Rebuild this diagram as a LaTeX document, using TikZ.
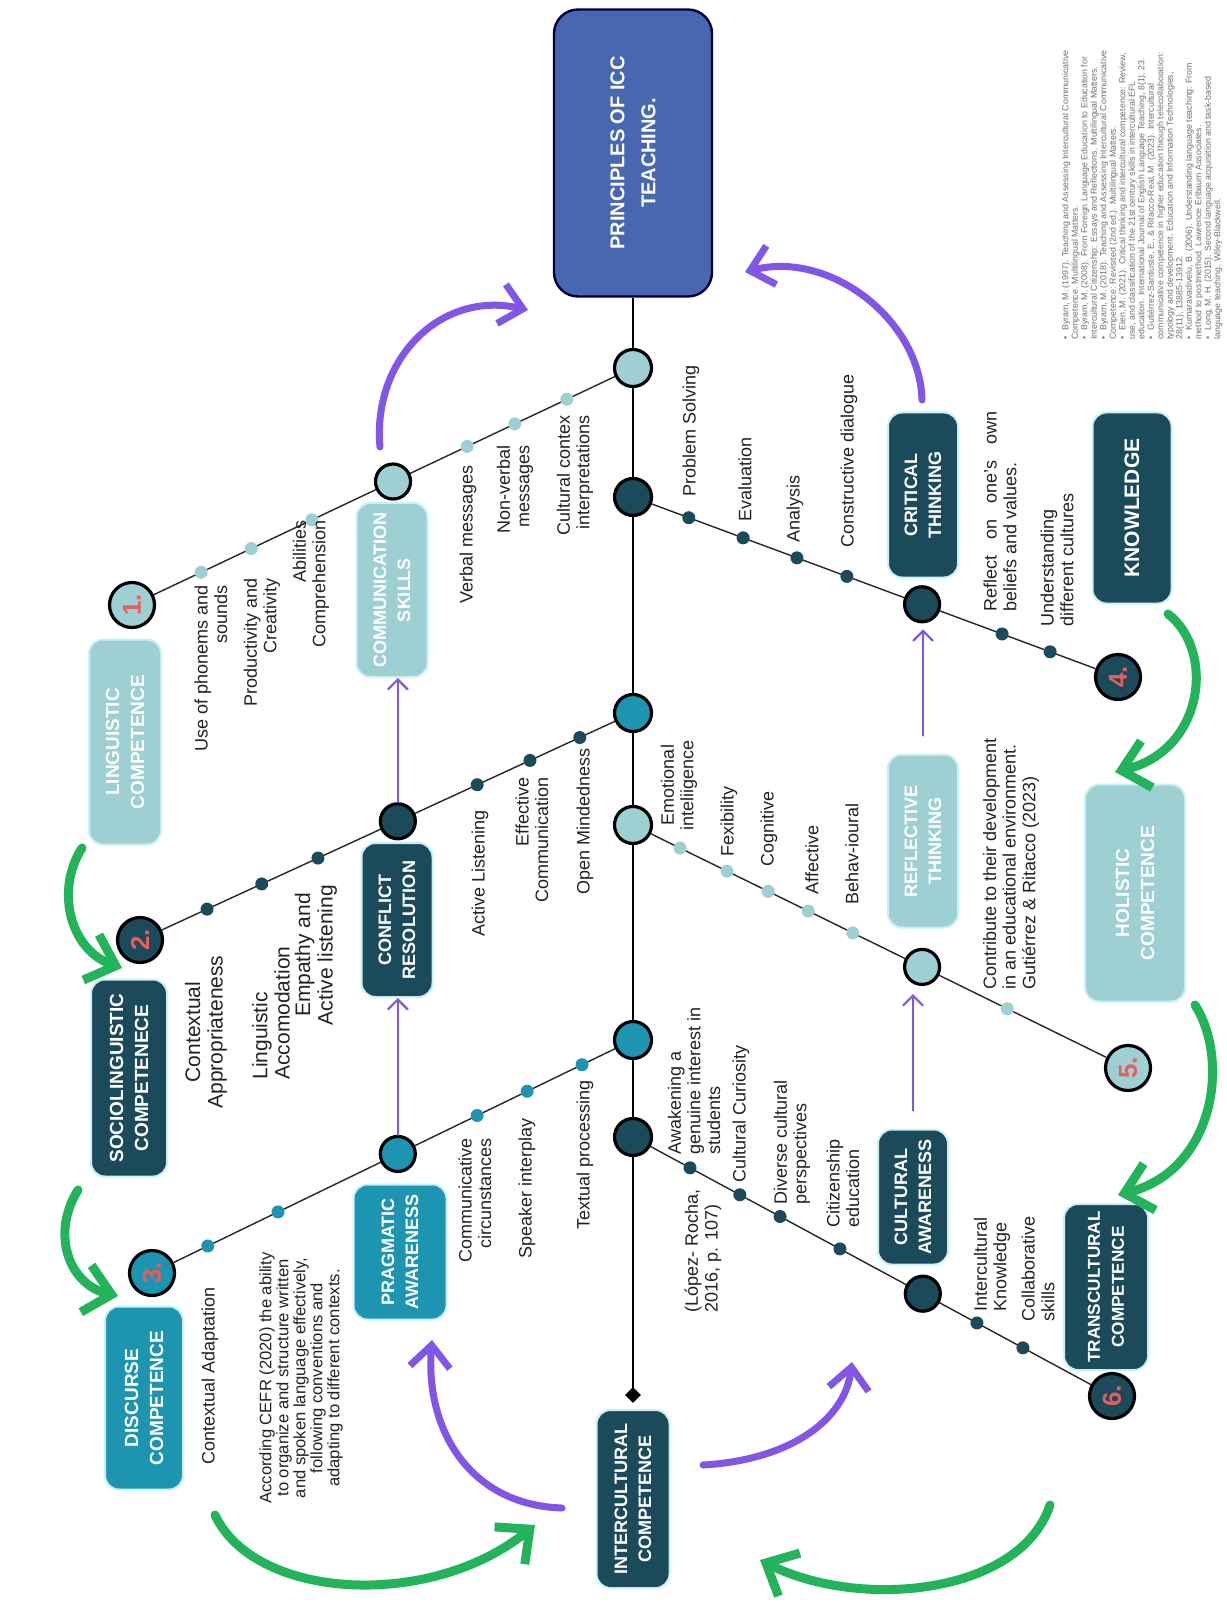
\documentclass[tikz,border=0pt]{standalone}
\usepackage{fontspec}
\setmainfont{Liberation Sans}
\usetikzlibrary{arrows.meta,calc,shapes.geometric}
\pgfdeclarelayer{back}
\pgfdeclarelayer{lines}
\pgfsetlayers{back,lines,main}
\definecolor{lt}{HTML}{9DCFD3}
\definecolor{tl}{HTML}{1E95B0}
\definecolor{dk}{HTML}{1B4A5A}
\definecolor{bl}{HTML}{4767B1}
\definecolor{pu}{HTML}{8155E6}
\definecolor{gr}{HTML}{22B35B}
\definecolor{nr}{HTML}{E85D5D}
\definecolor{glow}{HTML}{C9F1F5}
\definecolor{refg}{HTML}{707070}
\definecolor{txt}{HTML}{222222}
\newcommand\refitem[1]{\hangindent=4.5pt\hangafter=1\noindent\makebox[4.5pt][l]{\textbullet}#1\par}
\begin{document}
\begin{tikzpicture}[x=0.5pt,y=-0.5pt,
  bx/.style={rounded corners=7pt, rotate=90, align=center, text=white, font=\fontsize{9}{12}\selectfont\bfseries, inner sep=0pt, draw=glow, line width=1pt},
  bxl/.style={bx, font=\fontsize{9.5}{12.5}\selectfont\bfseries},
  lbl/.style={rotate=90, font=\fontsize{9}{9.8}\selectfont, inner sep=0pt, text=txt},
  lbltwo/.style={rotate=90, font=\fontsize{10.5}{11.2}\selectfont, inner sep=0pt, text=txt},
  bigc/.style={circle, draw=black, line width=1.6pt, minimum size=18.5pt, inner sep=0pt},
  midc/.style={circle, draw=black, line width=1.6pt, minimum size=17.5pt, inner sep=0pt},
  numc/.style={circle, draw=black, line width=1.6pt, minimum size=22.5pt, inner sep=0pt, rotate=90, text=nr, font=\fontsize{13}{13}\selectfont\bfseries},
  dot/.style={circle, minimum size=6.5pt, inner sep=0pt},
  br/.style={line width=0.7pt, draw=black!85},
  spine/.style={line width=1.4pt, draw=black},
  parr/.style={draw=pu, line width=3.5pt, line cap=round, -{Straight Barb[length=11pt,width=20pt]}},
  tparr/.style={draw=pu, line width=1.1pt, line cap=round, -{Straight Barb[length=5pt,width=10pt]}},
  garr/.style={draw=gr, line width=4.5pt, line cap=round, -{Straight Barb[length=13pt,width=24pt]}}
]
\useasboundingbox (0,0) rectangle (1226,1620);
\begin{pgfonlayer}{back}
\fill[white] (0,0) rectangle (1226,1620);
\end{pgfonlayer}

% ---------- boxes ----------
\node[bx, fill=bl, draw=black!75!blue, line width=1.2pt, rounded corners=12pt, minimum width=143.5pt, minimum height=79pt, font=\fontsize{10}{15.5}\selectfont\bfseries] (princ) at (633,153) {PRINCIPLES OF ICC\\TEACHING.};
\node[bxl, fill=lt, minimum width=102.5pt, minimum height=36pt] (ling) at (125,742) {LINGUISTIC\\COMPETENCE};
\node[bxl, fill=dk, minimum width=98.5pt, minimum height=38pt] (socio) at (129,1078) {SOCIOLINGUISTIC\\COMPETENECE};
\node[bxl, fill=tl, minimum width=91.5pt, minimum height=39pt] (disc) at (144,1398) {DISCURSE\\COMPETENCE};
\node[bx, fill=lt, minimum width=87pt, minimum height=35.5pt] (comm) at (392,590) {COMMUNICATION\\SKILLS};
\node[bx, fill=dk, minimum width=77pt, minimum height=35.5pt] (confl) at (397,920) {CONFLICT\\RESOLUTION};
\node[bx, fill=tl, minimum width=67.5pt, minimum height=46.5pt] (prag) at (400,1252) {PRAGMATIC\\AWARENESS};
\node[bx, fill=dk, minimum width=89pt, minimum height=36.5pt] (inter) at (633,1499) {INTERCULTURAL\\COMPETENCE};
\node[bx, fill=dk, minimum width=82.5pt, minimum height=35pt] (crit) at (923,495) {CRITICAL\\THINKING};
\node[bx, fill=dk, minimum width=95.5pt, minimum height=39.5pt, font=\fontsize{10.5}{13}\selectfont\bfseries] (know) at (1132,508) {KNOWLEDGE};
\node[bx, fill=lt, minimum width=86.5pt, minimum height=35pt] (refl) at (923,841) {REFLECTIVE\\THINKING};
\node[bxl, fill=lt, minimum width=108.5pt, minimum height=50pt] (hol) at (1135,893) {HOLISTIC\\COMPETENCE};
\node[bx, fill=dk, minimum width=67.5pt, minimum height=35pt] (cult) at (913,1197) {CULTURAL\\AWARENESS};
\node[bx, fill=dk, minimum width=83pt, minimum height=42pt, font=\fontsize{8.6}{12}\selectfont\bfseries] (trans) at (1106,1287) {TRANSCULTURAL\\COMPETENCE};

% ---------- circles ----------
\node[bigc, fill=lt] (s1) at (633,368) {};
\node[bigc, fill=dk] (s2) at (633,497) {};
\node[bigc, fill=tl] (s3) at (633,713) {};
\node[bigc, fill=lt] (s4) at (633,825) {};
\node[bigc, fill=tl] (s5) at (633,1040) {};
\node[bigc, fill=dk] (s6) at (633,1137) {};
\node[diamond, fill=black, inner sep=0pt, minimum size=8pt] (diam) at (633,1395) {};

\node[numc, fill=lt] (n1) at (132,605) {1.};
\node[numc, fill=dk] (n2) at (140,940) {2.};
\node[numc, fill=tl] (n3) at (152,1273) {3.};
\node[numc, fill=dk] (n4) at (1118,677) {4.};
\node[numc, fill=lt] (n5) at (1128,1068) {5.};
\node[numc, fill=dk] (n6) at (1112,1396) {6.};

\node[midc, fill=lt] (c1) at ($(n1)!0.521!(s1)$) {};
\node[midc, fill=dk] (c2) at ($(n2)!0.523!(s3)$) {};
\node[midc, fill=tl] (c3) at ($(n3)!0.511!(s5)$) {};
\node[midc, fill=dk] (c4) at ($(s2)!0.596!(n4)$) {};
\node[midc, fill=lt] (c5) at ($(s4)!0.584!(n5)$) {};
\node[midc, fill=dk] (c6) at ($(s6)!0.605!(n6)$) {};

% ---------- small dots ----------
\foreach \t [count=\i] in {0.138,0.238,0.359,0.669,0.764,0.868}
  \node[dot, fill=lt] (da\i) at ($(n1)!\t!(s1)$) {};
\foreach \t [count=\i] in {0.136,0.247,0.361,0.684,0.791,0.892}
  \node[dot, fill=dk] (db\i) at ($(n2)!\t!(s3)$) {};
\foreach \t [count=\i] in {0.116,0.262,0.676,0.780,0.894}
  \node[dot, fill=tl] (dc\i) at ($(n3)!\t!(s5)$) {};
\foreach \t [count=\i] in {0.115,0.227,0.338,0.441,0.761,0.860}
  \node[dot, fill=dk] (dd\i) at ($(s2)!\t!(n4)$) {};
\foreach \t [count=\i] in {0.095,0.190,0.273,0.354,0.444,0.756}
  \node[dot, fill=lt] (de\i) at ($(s4)!\t!(n5)$) {};
\foreach \t [count=\i] in {0.119,0.223,0.307,0.432,0.718,0.814}
  \node[dot, fill=dk] (df\i) at ($(s6)!\t!(n6)$) {};

% ---------- lines ----------
\begin{pgfonlayer}{lines}
\draw[spine] (princ.west) -- (diam.center);
\draw[br] (n1) -- (s1);
\draw[br] (n2) -- (s3);
\draw[br] (n3) -- (s5);
\draw[br] (s2) -- (n4);
\draw[br] (s4) -- (n5);
\draw[br] (s6) -- (n6);
\end{pgfonlayer}

% ---------- labels: upper-left branch ----------
\node[lbl, anchor=east, align=right] (la1) at (211,585) {Use of phonems and\\sounds};
\node[lbl, anchor=east, align=right] (la2) at (262,578) {Productivity and\\Creativity};
\node[lbl, anchor=east, align=right] (la3) at (311,520) {Abilities\\Comprehension};
\node[lbl, anchor=east] (la4) at (468,465) {Verbal messages};
\node[lbl, anchor=east, align=right] (la5) at (515,445) {Non-verbal\\messages};
\node[lbl, anchor=east, align=right] (la6) at (575,415) {Cultural contex\\interpretations};

% ---------- labels: middle-left branch ----------
\node[lbltwo, align=center] (lb1) at (206,1032) {Contextual\\Appropriateness};
\node[lbltwo, anchor=west, align=left] (lb2) at (271,1080) {Linguistic\\Accomodation};
\node[lbltwo, align=center] (lb3) at (316,955) {Empathy and\\Active listening};
\node[lbl, anchor=east] (lb4) at (480,810) {Active Listening};
\node[lbl, anchor=east, align=right] (lb5) at (532,777) {Effective\\Communication};
\node[lbl, anchor=east] (lb6) at (585,748) {Open Mindedness};

% ---------- labels: lower-left branch ----------
\node[lbl, anchor=east] (lc1) at (210,1287) {Contextual Adaptation};
\node[lbl, align=center, font=\fontsize{8.3}{8.5}\selectfont] (lc2) at (301,1378) {According CEFR (2020) the ability\\to organize and structure written\\and spoken language effectively,\\following conventions and\\adapting to different contexts.};
\node[lbl, anchor=east, align=right] (lc3) at (475,1138) {Communicative\\circunstances};
\node[lbl, anchor=east] (lc4) at (527,1118) {Speaker interplay};
\node[lbl, anchor=east] (lc5) at (585,1080) {Textual processing};

% ---------- labels: upper-right branch ----------
\node[lbl, anchor=west] (ld1) at (691,497) {Problem Solving};
\node[lbl, anchor=west] (ld2) at (745,522) {Evaluation};
\node[lbl, anchor=west] (ld3) at (795,543) {Analysis};
\node[lbl, anchor=west] (ld4) at (849,548) {Constructive dialogue};
\node[lbl, anchor=west, align=left] (ld5) at (1000,612) {\makebox[100pt][s]{Reflect\hfill on\hfill one’s\hfill own}\\beliefs and values.};
\node[lbl, anchor=west, align=left] (ld6) at (1057,627) {Understanding\\different cultures};

% ---------- labels: middle-right branch ----------
\node[lbl, align=center] (le1) at (679,785) {Emotional\\inteliigence};
\node[lbl, anchor=west] (le2) at (729,857) {Fexibility};
\node[lbl, anchor=west] (le3) at (769,867) {Cognitive};
\node[lbl, anchor=west] (le4) at (812,895) {Affective};
\node[lbl, anchor=west] (le5) at (852,905) {Behav-ioural};
\node[lbl, anchor=west, align=left] (le6) at (1011,990) {Contribute to their development\\in an educational environment.\\Gutiérrez \& Ritacco (2023)};

% ---------- labels: lower-right branch ----------
\node[lbl, anchor=west, align=left] (lf1) at (694,1155) {Awakening a\\genuine interest in\\students};
\node[lbl, anchor=west] (lf2) at (741,1183) {Cultural Curiosity};
\node[lbl, anchor=west, align=left] (lf3) at (792,1205) {Diverse cultural\\perspectives};
\node[lbl, anchor=west, align=left] (lf4) at (843,1228) {Citizenship\\education};
\node[lbl, anchor=west, align=left] (lf5) at (703,1313) {(López- Rocha,\\2016, p. 107)};
\node[lbl, anchor=west, align=left] (lf6) at (992,1312) {Intercultural\\Knowledge};
\node[lbl, anchor=west, align=left] (lf7) at (1038,1322) {Collaborative\\skills};

% ---------- references ----------
\node[rotate=90, anchor=west, inner sep=0pt, text=refg, font=\fontsize{4.4}{4.75}\selectfont] (refs) at (1142,340) {\parbox{172pt}{\raggedright
\refitem{Byram, M. (1997). Teaching and Assessing Intercultural Communicative\\Competence. Multilingual Matters.}
\refitem{Byram, M. (2008). From Foreign Language Education to Education for\\Intercultural Citizenship: Essays and Reflections. Multilingual Matters.}
\refitem{Byram, M. (2018). Teaching and Assessing Intercultural Communicative\\Competence: Revisited (2nd ed.). Multilingual Matters.}
\refitem{Elen, M. (2021). Critical thinking and intercultural competence: Review,\\use, and classification of the 21st century skills in intercultural EFL\\education. International Journal of English Language Teaching, 8(1), 23.}
\refitem{Gutiérrez-Santiuste, E., \& Ritacco-Real, M. (2023). Intercultural\\communicative competence in higher education through telecollaboration:\\typology and development. Education and Information Technologies,\\28(11), 13885-13912.}
\refitem{Kumaravadivelu, B. (2006). Understanding language teaching: From\\method to postmethod. Lawrence Erlbaum Associates.}
\refitem{Long, M. H. (2015). Second language acquisition and task-based\\language teaching. Wiley-Blackwell.}}};

% ---------- thin purple arrows ----------
\draw[tparr] (c2.north) -- (c2.north |- comm.west);
\draw[tparr] (c3.north) -- (c3.north |- confl.west);
\draw[tparr, shorten <=9pt, shorten >=4pt] (cult.east) -- (cult.east |- c5.south);
\draw[tparr, shorten <=9pt, shorten >=3pt] (refl.east) -- (refl.east |- c4.south);

% ---------- thick purple arrows ----------
\coordinate (pa1s) at (380,447); \coordinate (pa1e) at (528,310);
\draw[parr] (pa1s) .. controls (372,360) and (440,290) .. (pa1e);
\coordinate (pa2s) at (922,400); \coordinate (pa2e) at (745,272);
\draw[parr] (pa2s) .. controls (920,320) and (830,250) .. (pa2e);
\coordinate (pa3s) at (562,1508); \coordinate (pa3e) at (432,1340);
\draw[parr] (pa3s) .. controls (470,1505) and (425,1430) .. (pa3e);
\coordinate (pa4s) at (703,1465); \coordinate (pa4e) at (852,1362);
\draw[parr] (pa4s) .. controls (790,1460) and (845,1420) .. (pa4e);

% ---------- green arrows ----------
\coordinate (ga1s) at (82,848); \coordinate (ga1e) at (122,968);
\draw[garr] (ga1s) .. controls (55,890) and (70,950) .. (ga1e);
\coordinate (ga2s) at (78,1190); \coordinate (ga2e) at (118,1296);
\draw[garr] (ga2s) .. controls (50,1235) and (70,1285) .. (ga2e);
\coordinate (ga3s) at (215,1515); \coordinate (ga3e) at (535,1525);
\draw[garr] (ga3s) .. controls (255,1600) and (430,1610) .. (ga3e);
\coordinate (ga4s) at (1050,1505); \coordinate (ga4e) at (760,1560);
\draw[garr] (ga4s) .. controls (1020,1595) and (860,1610) .. (ga4e);
\coordinate (ga5s) at (1168,614); \coordinate (ga5e) at (1115,772);
\draw[garr] (ga5s) .. controls (1215,650) and (1205,750) .. (ga5e);
\coordinate (ga6s) at (1195,1005); \coordinate (ga6e) at (1118,1195);
\draw[garr] (ga6s) .. controls (1230,1060) and (1215,1170) .. (ga6e);
\end{tikzpicture}
\end{document}
